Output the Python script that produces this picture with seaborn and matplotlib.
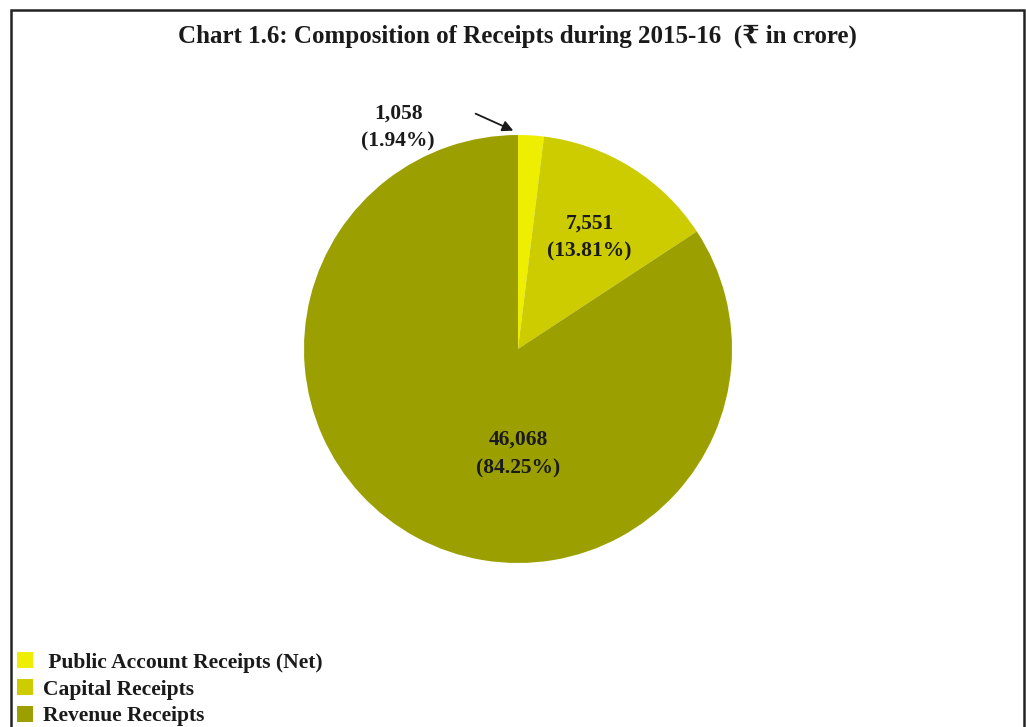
import matplotlib
matplotlib.use("Agg")
import matplotlib.pyplot as plt
import matplotlib.patches as mpatches
import seaborn as sns

# Receipts for 2015-16 (in crore)
categories = ["Public Account Receipts (Net)", "Capital Receipts", "Revenue Receipts"]
amounts = [1058, 7551, 46068]
amount_labels = ["1,058", "7,551", "46,068"]
shares = [1.94, 13.81, 84.25]
colors = ["#EEEE00", "#CCCC00", "#9BA000"]

sns.set_theme(style="white")
serif = ["Liberation Serif", "DejaVu Serif", "DejaVu Sans"]
plt.rcParams["font.family"] = serif

W, H = 1026, 727
fig = plt.figure(figsize=(W / 100, H / 100), dpi=100)
fig.patch.set_facecolor("white")

# outer frame
frame = mpatches.Rectangle((11 / W, -0.05), (1024 - 11) / W, 1.05 - 10 / H,
                           transform=fig.transFigure, fill=False,
                           edgecolor="#222222", linewidth=1.8)
fig.patches.append(frame)

fig.text(517 / W, 1 - 36 / H, "Chart 1.6: Composition of Receipts during 2015-16  (\u20b9 in crore)",
         ha="center", va="center", fontsize=18, fontweight="bold", color="#1a1a1a")

cx, cy, R = 518, 349, 214
ax = fig.add_axes([(cx - R) / W, 1 - (cy + R) / H, 2 * R / W, 2 * R / H])
wedges, _ = ax.pie(amounts, colors=colors, startangle=90, counterclock=False,
                   wedgeprops=dict(linewidth=0))
ax.set_xlim(-1, 1)
ax.set_ylim(-1, 1)
ax.set_aspect("equal")
ax.axis("off")

lab_kw = dict(ha="center", va="center", fontsize=15.5, fontweight="bold",
              color="#1a1a1a", linespacing=1.55)
positions = [(-0.56, 1.035), (0.335, 0.52), (0.0, -0.49)]
for (x, y), a, s in zip(positions, amount_labels, shares):
    ax.text(x, y, f"{a}\n({s:.2f}%)", clip_on=False, **lab_kw)

ax.annotate("", xy=(-0.01, 1.015), xytext=(-0.21, 1.105),
            arrowprops=dict(arrowstyle="-|>", color="#1a1a1a", lw=1.3,
                            mutation_scale=16),
            annotation_clip=False)

handles = [mpatches.Patch(facecolor=c, edgecolor="none") for c in colors]
leg_labels = [" " + categories[0], categories[1], categories[2]]
leg = fig.legend(handles, leg_labels, loc="upper left",
                 bbox_to_anchor=(13 / W, 1 - 648 / H), frameon=False,
                 prop=dict(family=serif, weight="bold", size=15.5),
                 handlelength=0.75, handleheight=0.75, handletextpad=0.45,
                 labelspacing=0.3, borderaxespad=0.0, borderpad=0.2)
for t in leg.get_texts():
    t.set_color("#1a1a1a")

fig.savefig("out.png", dpi=100)
